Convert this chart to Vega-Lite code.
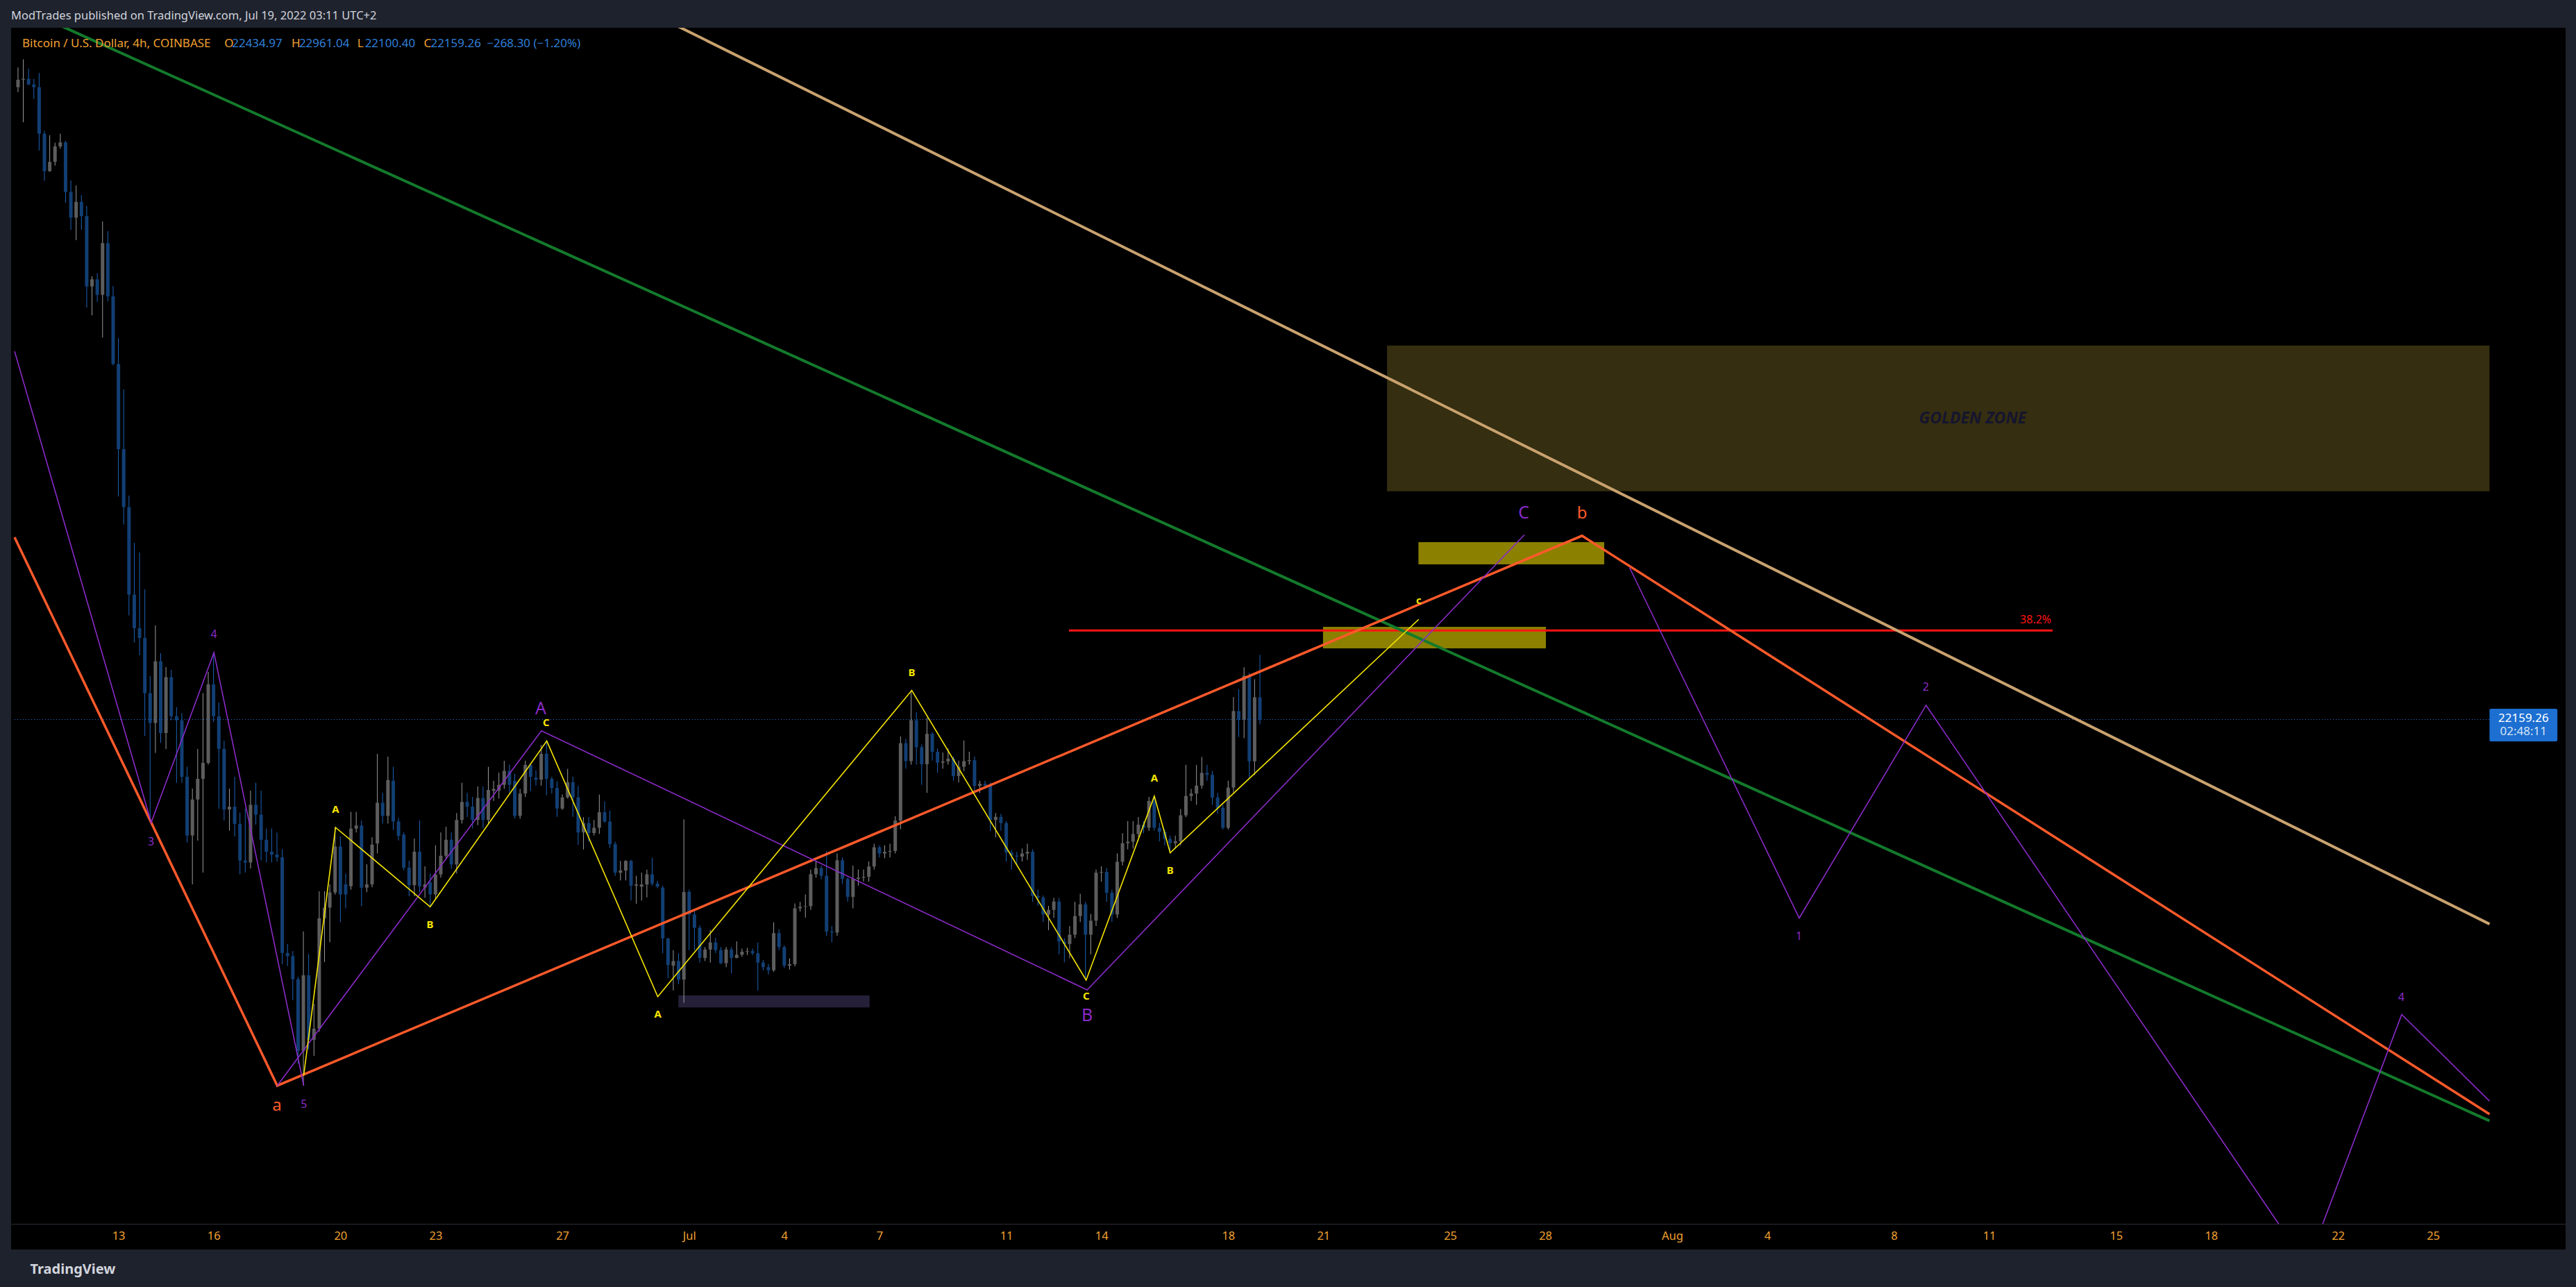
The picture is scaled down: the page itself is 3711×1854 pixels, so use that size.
{
  "$schema": "https://vega.github.io/schema/vega-lite/v6.json",
  "width": 3680,
  "height": 1760,
  "autosize": {"type": "none"},
  "padding": {"left": 16, "top": 40, "right": 15, "bottom": 54},
  "background": "#1e222d",
  "config": {"view": {"fill": "#000000", "stroke": null}, "font": "Noto Sans"},
  "title": {"text": "ModTrades published on TradingView.com, Jul 19, 2022 03:11 UTC+2", "anchor": "start", "frame": "group", "offset": 9, "color": "#d1d4dc", "fontSize": 16.5, "fontWeight": "normal", "font": "Noto Sans"},
  "datasets": {
    "candles": [
      {"t":"2022-06-09T20:00Z","o":29995,"h":30240,"l":29933,"c":30087},
      {"t":"2022-06-10T00:00Z","o":30087,"h":30340,"l":29561,"c":30098},
      {"t":"2022-06-10T04:00Z","o":30098,"h":30225,"l":30020,"c":30029},
      {"t":"2022-06-10T08:00Z","o":30029,"h":30098,"l":29849,"c":29995},
      {"t":"2022-06-10T12:00Z","o":29995,"h":30171,"l":29211,"c":29419},
      {"t":"2022-06-10T16:00Z","o":29419,"h":29453,"l":28835,"c":28954},
      {"t":"2022-06-10T20:00Z","o":28954,"h":29399,"l":28946,"c":29069},
      {"t":"2022-06-11T00:00Z","o":29069,"h":29307,"l":29023,"c":29261},
      {"t":"2022-06-11T04:00Z","o":29261,"h":29418,"l":29234,"c":29311},
      {"t":"2022-06-11T08:00Z","o":29311,"h":29330,"l":28562,"c":28697},
      {"t":"2022-06-11T12:00Z","o":28697,"h":28839,"l":28228,"c":28378},
      {"t":"2022-06-11T16:00Z","o":28378,"h":28777,"l":28101,"c":28574},
      {"t":"2022-06-11T20:00Z","o":28574,"h":28658,"l":28228,"c":28397},
      {"t":"2022-06-12T00:00Z","o":28397,"h":28524,"l":27264,"c":27526},
      {"t":"2022-06-12T04:00Z","o":27526,"h":27652,"l":27168,"c":27614},
      {"t":"2022-06-12T08:00Z","o":27614,"h":27690,"l":27333,"c":27422},
      {"t":"2022-06-12T12:00Z","o":27422,"h":28332,"l":26892,"c":28063},
      {"t":"2022-06-12T16:00Z","o":28063,"h":28209,"l":27341,"c":27403},
      {"t":"2022-06-12T20:00Z","o":27403,"h":27533,"l":26546,"c":26565},
      {"t":"2022-06-13T00:00Z","o":26565,"h":26884,"l":24922,"c":25509},
      {"t":"2022-06-13T04:00Z","o":25509,"h":26251,"l":24576,"c":24791},
      {"t":"2022-06-13T08:00Z","o":24791,"h":24934,"l":23450,"c":23706},
      {"t":"2022-06-13T12:00Z","o":23706,"h":24348,"l":23114,"c":23291},
      {"t":"2022-06-13T16:00Z","o":23291,"h":24228,"l":22955,"c":23170},
      {"t":"2022-06-13T20:00Z","o":23170,"h":23772,"l":21957,"c":22486},
      {"t":"2022-06-14T00:00Z","o":22486,"h":22700,"l":20880,"c":22116},
      {"t":"2022-06-14T04:00Z","o":22116,"h":23325,"l":21746,"c":22881},
      {"t":"2022-06-14T08:00Z","o":22881,"h":22980,"l":21871,"c":21992},
      {"t":"2022-06-14T12:00Z","o":21992,"h":22809,"l":21794,"c":22684},
      {"t":"2022-06-14T16:00Z","o":22684,"h":22775,"l":22150,"c":22200},
      {"t":"2022-06-14T20:00Z","o":22200,"h":22313,"l":21375,"c":22150},
      {"t":"2022-06-15T00:00Z","o":22150,"h":22240,"l":21375,"c":21449},
      {"t":"2022-06-15T04:00Z","o":21449,"h":21573,"l":20635,"c":20723},
      {"t":"2022-06-15T08:00Z","o":20723,"h":21303,"l":20116,"c":21168},
      {"t":"2022-06-15T12:00Z","o":21168,"h":21794,"l":20658,"c":21424},
      {"t":"2022-06-15T16:00Z","o":21424,"h":22486,"l":20262,"c":21622},
      {"t":"2022-06-15T20:00Z","o":21622,"h":22748,"l":21600,"c":22595},
      {"t":"2022-06-16T00:00Z","o":22595,"h":22989,"l":22129,"c":22200},
      {"t":"2022-06-16T04:00Z","o":22200,"h":22370,"l":21054,"c":21795},
      {"t":"2022-06-16T08:00Z","o":21795,"h":21897,"l":20908,"c":21044},
      {"t":"2022-06-16T12:00Z","o":21044,"h":21303,"l":20783,"c":21079},
      {"t":"2022-06-16T16:00Z","o":21079,"h":21450,"l":20710,"c":20866},
      {"t":"2022-06-16T20:00Z","o":20866,"h":21006,"l":20241,"c":20412},
      {"t":"2022-06-17T00:00Z","o":20412,"h":21054,"l":20262,"c":20387},
      {"t":"2022-06-17T04:00Z","o":20387,"h":21278,"l":20314,"c":21103},
      {"t":"2022-06-17T08:00Z","o":21103,"h":21375,"l":20856,"c":20980},
      {"t":"2022-06-17T12:00Z","o":20980,"h":21278,"l":20412,"c":20669},
      {"t":"2022-06-17T16:00Z","o":20669,"h":20808,"l":20390,"c":20521},
      {"t":"2022-06-17T20:00Z","o":20521,"h":20808,"l":20390,"c":20486},
      {"t":"2022-06-18T00:00Z","o":20486,"h":20759,"l":20400,"c":20452},
      {"t":"2022-06-18T04:00Z","o":20452,"h":20551,"l":19127,"c":19266},
      {"t":"2022-06-18T08:00Z","o":19266,"h":19377,"l":19105,"c":19227},
      {"t":"2022-06-18T12:00Z","o":19227,"h":19290,"l":18684,"c":18941},
      {"t":"2022-06-18T16:00Z","o":18941,"h":18970,"l":17897,"c":18052},
      {"t":"2022-06-18T20:00Z","o":18052,"h":19533,"l":17622,"c":18990},
      {"t":"2022-06-19T00:00Z","o":18990,"h":19253,"l":18069,"c":18190},
      {"t":"2022-06-19T04:00Z","o":18190,"h":18636,"l":17991,"c":18328},
      {"t":"2022-06-19T08:00Z","o":18328,"h":20030,"l":18290,"c":19696},
      {"t":"2022-06-19T12:00Z","o":19696,"h":20030,"l":19153,"c":19829},
      {"t":"2022-06-19T16:00Z","o":19829,"h":20116,"l":19400,"c":20017},
      {"t":"2022-06-19T20:00Z","o":20017,"h":20822,"l":19990,"c":20585},
      {"t":"2022-06-20T00:00Z","o":20585,"h":20710,"l":19647,"c":19992},
      {"t":"2022-06-20T04:00Z","o":20116,"h":20250,"l":19820,"c":19992},
      {"t":"2022-06-20T08:00Z","o":20093,"h":21015,"l":20050,"c":20807},
      {"t":"2022-06-20T12:00Z","o":20807,"h":21015,"l":20760,"c":20846},
      {"t":"2022-06-20T16:00Z","o":20846,"h":20908,"l":19845,"c":20076},
      {"t":"2022-06-20T20:00Z","o":20076,"h":20365,"l":20020,"c":20116},
      {"t":"2022-06-21T00:00Z","o":20116,"h":20700,"l":20080,"c":20610},
      {"t":"2022-06-21T04:00Z","o":20624,"h":21734,"l":20500,"c":21128},
      {"t":"2022-06-21T08:00Z","o":21128,"h":21250,"l":20870,"c":20965},
      {"t":"2022-06-21T12:00Z","o":20965,"h":21700,"l":20870,"c":21410},
      {"t":"2022-06-21T16:00Z","o":21400,"h":21573,"l":20790,"c":20896},
      {"t":"2022-06-21T20:00Z","o":20896,"h":20940,"l":20660,"c":20718},
      {"t":"2022-06-22T00:00Z","o":20733,"h":20760,"l":20290,"c":20323},
      {"t":"2022-06-22T04:00Z","o":20323,"h":20410,"l":19970,"c":20106},
      {"t":"2022-06-22T08:00Z","o":20106,"h":20684,"l":19970,"c":20521},
      {"t":"2022-06-22T12:00Z","o":20521,"h":20908,"l":20020,"c":20091},
      {"t":"2022-06-22T16:00Z","o":20077,"h":20340,"l":19950,"c":20116},
      {"t":"2022-06-22T20:00Z","o":20142,"h":20250,"l":19839,"c":19992},
      {"t":"2022-06-23T00:00Z","o":19992,"h":20600,"l":19940,"c":20239},
      {"t":"2022-06-23T04:00Z","o":20239,"h":20760,"l":20200,"c":20471},
      {"t":"2022-06-23T08:00Z","o":20471,"h":20830,"l":20440,"c":20669},
      {"t":"2022-06-23T12:00Z","o":20669,"h":20760,"l":20310,"c":20363},
      {"t":"2022-06-23T16:00Z","o":20363,"h":21000,"l":20250,"c":20915},
      {"t":"2022-06-23T20:00Z","o":20915,"h":21375,"l":20870,"c":21138},
      {"t":"2022-06-24T00:00Z","o":21138,"h":21250,"l":20950,"c":21080},
      {"t":"2022-06-24T04:00Z","o":21080,"h":21200,"l":20810,"c":20915},
      {"t":"2022-06-24T08:00Z","o":20915,"h":21330,"l":20850,"c":21187},
      {"t":"2022-06-24T12:00Z","o":21187,"h":21330,"l":20810,"c":20915},
      {"t":"2022-06-24T16:00Z","o":20915,"h":21573,"l":20860,"c":21286},
      {"t":"2022-06-24T20:00Z","o":21276,"h":21400,"l":21150,"c":21300},
      {"t":"2022-06-25T00:00Z","o":21278,"h":21500,"l":21180,"c":21350},
      {"t":"2022-06-25T04:00Z","o":21350,"h":21647,"l":21300,"c":21523},
      {"t":"2022-06-25T08:00Z","o":21523,"h":21600,"l":21250,"c":21350},
      {"t":"2022-06-25T12:00Z","o":21400,"h":21490,"l":20933,"c":20966},
      {"t":"2022-06-25T16:00Z","o":20966,"h":21300,"l":20930,"c":21242},
      {"t":"2022-06-25T20:00Z","o":21242,"h":21650,"l":21200,"c":21597},
      {"t":"2022-06-26T00:00Z","o":21597,"h":21620,"l":21270,"c":21449},
      {"t":"2022-06-26T04:00Z","o":21439,"h":21530,"l":21340,"c":21414},
      {"t":"2022-06-26T08:00Z","o":21414,"h":21845,"l":21340,"c":21735},
      {"t":"2022-06-26T12:00Z","o":21735,"h":21897,"l":21221,"c":21424},
      {"t":"2022-06-26T16:00Z","o":21424,"h":21450,"l":21241,"c":21311},
      {"t":"2022-06-26T20:00Z","o":21311,"h":21394,"l":20953,"c":21056},
      {"t":"2022-06-27T00:00Z","o":21056,"h":21230,"l":21040,"c":21194},
      {"t":"2022-06-27T04:00Z","o":21194,"h":21548,"l":21180,"c":21383},
      {"t":"2022-06-27T08:00Z","o":21383,"h":21452,"l":20953,"c":21194},
      {"t":"2022-06-27T12:00Z","o":21194,"h":21337,"l":20607,"c":20760},
      {"t":"2022-06-27T16:00Z","o":20760,"h":20950,"l":20549,"c":20876},
      {"t":"2022-06-27T20:00Z","o":20876,"h":20950,"l":20645,"c":20753},
      {"t":"2022-06-28T00:00Z","o":20753,"h":20914,"l":20722,"c":20818},
      {"t":"2022-06-28T04:00Z","o":20818,"h":21229,"l":20741,"c":21010},
      {"t":"2022-06-28T08:00Z","o":21010,"h":21144,"l":20880,"c":20895},
      {"t":"2022-06-28T12:00Z","o":20895,"h":21029,"l":20568,"c":20615},
      {"t":"2022-06-28T16:00Z","o":20615,"h":20645,"l":20223,"c":20261},
      {"t":"2022-06-28T20:00Z","o":20261,"h":20407,"l":20165,"c":20288},
      {"t":"2022-06-29T00:00Z","o":20288,"h":20415,"l":20165,"c":20407},
      {"t":"2022-06-29T04:00Z","o":20407,"h":20420,"l":19916,"c":20100},
      {"t":"2022-06-29T08:00Z","o":20100,"h":20223,"l":19877,"c":20115},
      {"t":"2022-06-29T12:00Z","o":20088,"h":20261,"l":19916,"c":20115},
      {"t":"2022-06-29T16:00Z","o":20115,"h":20300,"l":19954,"c":20242},
      {"t":"2022-06-29T20:00Z","o":20242,"h":20445,"l":20100,"c":20127},
      {"t":"2022-06-30T00:00Z","o":20127,"h":20160,"l":20069,"c":20088},
      {"t":"2022-06-30T04:00Z","o":20077,"h":20100,"l":19263,"c":19447},
      {"t":"2022-06-30T08:00Z","o":19447,"h":19455,"l":18956,"c":19117},
      {"t":"2022-06-30T12:00Z","o":19109,"h":19301,"l":18802,"c":19167},
      {"t":"2022-06-30T16:00Z","o":19167,"h":19263,"l":18880,"c":18936},
      {"t":"2022-06-30T20:00Z","o":18936,"h":20922,"l":18649,"c":20023},
      {"t":"2022-07-01T00:00Z","o":20023,"h":20050,"l":19301,"c":19743},
      {"t":"2022-07-01T04:00Z","o":19743,"h":19800,"l":19301,"c":19578},
      {"t":"2022-07-01T08:00Z","o":19578,"h":19610,"l":19147,"c":19205},
      {"t":"2022-07-01T12:00Z","o":19205,"h":19340,"l":19167,"c":19309},
      {"t":"2022-07-01T16:00Z","o":19309,"h":19551,"l":19147,"c":19397},
      {"t":"2022-07-01T20:00Z","o":19397,"h":19455,"l":19263,"c":19301},
      {"t":"2022-07-02T00:00Z","o":19301,"h":19340,"l":19128,"c":19140},
      {"t":"2022-07-02T04:00Z","o":19140,"h":19340,"l":19090,"c":19309},
      {"t":"2022-07-02T08:00Z","o":19309,"h":19340,"l":19013,"c":19205},
      {"t":"2022-07-02T12:00Z","o":19205,"h":19410,"l":19200,"c":19244},
      {"t":"2022-07-02T16:00Z","o":19244,"h":19320,"l":19220,"c":19282},
      {"t":"2022-07-02T20:00Z","o":19282,"h":19330,"l":19240,"c":19290},
      {"t":"2022-07-03T00:00Z","o":19290,"h":19320,"l":19240,"c":19263},
      {"t":"2022-07-03T04:00Z","o":19263,"h":19397,"l":18802,"c":19147},
      {"t":"2022-07-03T08:00Z","o":19147,"h":19180,"l":19050,"c":19090},
      {"t":"2022-07-03T12:00Z","o":19090,"h":19130,"l":19000,"c":19052},
      {"t":"2022-07-03T16:00Z","o":19052,"h":19647,"l":19032,"c":19513},
      {"t":"2022-07-03T20:00Z","o":19513,"h":19560,"l":19300,"c":19340},
      {"t":"2022-07-04T00:00Z","o":19340,"h":19360,"l":19080,"c":19109},
      {"t":"2022-07-04T04:00Z","o":19109,"h":19200,"l":19060,"c":19128},
      {"t":"2022-07-04T08:00Z","o":19128,"h":19880,"l":19100,"c":19820},
      {"t":"2022-07-04T12:00Z","o":19820,"h":19900,"l":19780,"c":19839},
      {"t":"2022-07-04T16:00Z","o":19839,"h":19992,"l":19704,"c":19846},
      {"t":"2022-07-04T20:00Z","o":19846,"h":20300,"l":19800,"c":20242},
      {"t":"2022-07-05T00:00Z","o":20242,"h":20400,"l":20200,"c":20319},
      {"t":"2022-07-05T04:00Z","o":20319,"h":20350,"l":20180,"c":20223},
      {"t":"2022-07-05T08:00Z","o":20223,"h":20530,"l":19480,"c":19532},
      {"t":"2022-07-05T12:00Z","o":19532,"h":19600,"l":19400,"c":19520},
      {"t":"2022-07-05T16:00Z","o":19520,"h":20500,"l":19480,"c":20415},
      {"t":"2022-07-05T20:00Z","o":20415,"h":20450,"l":20120,"c":20184},
      {"t":"2022-07-06T00:00Z","o":20184,"h":20200,"l":19900,"c":19962},
      {"t":"2022-07-06T04:00Z","o":19962,"h":20350,"l":19820,"c":20184},
      {"t":"2022-07-06T08:00Z","o":20184,"h":20300,"l":20100,"c":20200},
      {"t":"2022-07-06T12:00Z","o":20200,"h":20300,"l":20150,"c":20210},
      {"t":"2022-07-06T16:00Z","o":20210,"h":20400,"l":20150,"c":20338},
      {"t":"2022-07-06T20:00Z","o":20338,"h":20620,"l":20300,"c":20576},
      {"t":"2022-07-07T00:00Z","o":20576,"h":20600,"l":20450,"c":20499},
      {"t":"2022-07-07T04:00Z","o":20499,"h":20600,"l":20440,"c":20520},
      {"t":"2022-07-07T08:00Z","o":20520,"h":20620,"l":20450,"c":20530},
      {"t":"2022-07-07T12:00Z","o":20530,"h":20960,"l":20500,"c":20906},
      {"t":"2022-07-07T16:00Z","o":20906,"h":21950,"l":20800,"c":21866},
      {"t":"2022-07-07T20:00Z","o":21866,"h":21920,"l":21550,"c":21644},
      {"t":"2022-07-08T00:00Z","o":21644,"h":22520,"l":21600,"c":22151},
      {"t":"2022-07-08T04:00Z","o":22151,"h":22250,"l":21600,"c":21816},
      {"t":"2022-07-08T08:00Z","o":21816,"h":21850,"l":21350,"c":21605},
      {"t":"2022-07-08T12:00Z","o":21605,"h":22180,"l":21250,"c":21982},
      {"t":"2022-07-08T16:00Z","o":21982,"h":22000,"l":21650,"c":21759},
      {"t":"2022-07-08T20:00Z","o":21759,"h":21800,"l":21500,"c":21624},
      {"t":"2022-07-09T00:00Z","o":21624,"h":21750,"l":21550,"c":21640},
      {"t":"2022-07-09T04:00Z","o":21640,"h":21800,"l":21600,"c":21674},
      {"t":"2022-07-09T08:00Z","o":21674,"h":21700,"l":21400,"c":21459},
      {"t":"2022-07-09T12:00Z","o":21459,"h":21650,"l":21380,"c":21574},
      {"t":"2022-07-09T16:00Z","o":21574,"h":21900,"l":21520,"c":21644},
      {"t":"2022-07-09T20:00Z","o":21644,"h":21760,"l":21600,"c":21655},
      {"t":"2022-07-10T00:00Z","o":21655,"h":21700,"l":21250,"c":21336},
      {"t":"2022-07-10T04:00Z","o":21336,"h":21400,"l":21250,"c":21363},
      {"t":"2022-07-10T08:00Z","o":21363,"h":21400,"l":21300,"c":21340},
      {"t":"2022-07-10T12:00Z","o":21340,"h":21380,"l":20780,"c":20914},
      {"t":"2022-07-10T16:00Z","o":20914,"h":21000,"l":20700,"c":20953},
      {"t":"2022-07-10T20:00Z","o":20953,"h":20990,"l":20780,"c":20876},
      {"t":"2022-07-11T00:00Z","o":20876,"h":20900,"l":20400,"c":20511},
      {"t":"2022-07-11T04:00Z","o":20511,"h":20540,"l":20300,"c":20472},
      {"t":"2022-07-11T08:00Z","o":20472,"h":20520,"l":20350,"c":20461},
      {"t":"2022-07-11T12:00Z","o":20461,"h":20560,"l":20400,"c":20499},
      {"t":"2022-07-11T16:00Z","o":20499,"h":20620,"l":20420,"c":20520},
      {"t":"2022-07-11T20:00Z","o":20520,"h":20550,"l":19900,"c":19973},
      {"t":"2022-07-12T00:00Z","o":19973,"h":20050,"l":19850,"c":19954},
      {"t":"2022-07-12T04:00Z","o":19954,"h":19980,"l":19650,"c":19743},
      {"t":"2022-07-12T08:00Z","o":19743,"h":19850,"l":19550,"c":19800},
      {"t":"2022-07-12T12:00Z","o":19800,"h":19950,"l":19700,"c":19904},
      {"t":"2022-07-12T16:00Z","o":19904,"h":19950,"l":19250,"c":19409},
      {"t":"2022-07-12T20:00Z","o":19409,"h":19450,"l":19150,"c":19378},
      {"t":"2022-07-13T00:00Z","o":19378,"h":19600,"l":19200,"c":19493},
      {"t":"2022-07-13T04:00Z","o":19493,"h":19900,"l":19450,"c":19724},
      {"t":"2022-07-13T08:00Z","o":19724,"h":20000,"l":19650,"c":19869},
      {"t":"2022-07-13T12:00Z","o":19869,"h":19900,"l":18929,"c":19493},
      {"t":"2022-07-13T16:00Z","o":19493,"h":19750,"l":19250,"c":19666},
      {"t":"2022-07-13T20:00Z","o":19666,"h":20300,"l":19600,"c":20261},
      {"t":"2022-07-14T00:00Z","o":20261,"h":20340,"l":20150,"c":20270},
      {"t":"2022-07-14T04:00Z","o":20270,"h":20320,"l":19900,"c":20012},
      {"t":"2022-07-14T08:00Z","o":20012,"h":20050,"l":19650,"c":19743},
      {"t":"2022-07-14T12:00Z","o":19743,"h":20500,"l":19700,"c":20396},
      {"t":"2022-07-14T16:00Z","o":20396,"h":20750,"l":20350,"c":20626},
      {"t":"2022-07-14T20:00Z","o":20626,"h":20900,"l":20550,"c":20645},
      {"t":"2022-07-15T00:00Z","o":20645,"h":20900,"l":20560,"c":20741},
      {"t":"2022-07-15T04:00Z","o":20741,"h":20950,"l":20700,"c":20856},
      {"t":"2022-07-15T08:00Z","o":20856,"h":20900,"l":20750,"c":20818},
      {"t":"2022-07-15T12:00Z","o":20818,"h":21200,"l":20780,"c":21150},
      {"t":"2022-07-15T16:00Z","o":21150,"h":21210,"l":20780,"c":20818},
      {"t":"2022-07-15T20:00Z","o":20818,"h":20880,"l":20650,"c":20768},
      {"t":"2022-07-16T00:00Z","o":20768,"h":20800,"l":20600,"c":20680},
      {"t":"2022-07-16T04:00Z","o":20680,"h":20720,"l":20507,"c":20626},
      {"t":"2022-07-16T08:00Z","o":20626,"h":20720,"l":20560,"c":20650},
      {"t":"2022-07-16T12:00Z","o":20650,"h":21050,"l":20600,"c":20972},
      {"t":"2022-07-16T16:00Z","o":20972,"h":21597,"l":20950,"c":21212},
      {"t":"2022-07-16T20:00Z","o":21212,"h":21300,"l":21150,"c":21242},
      {"t":"2022-07-17T00:00Z","o":21242,"h":21597,"l":21103,"c":21340},
      {"t":"2022-07-17T04:00Z","o":21340,"h":21696,"l":21301,"c":21498},
      {"t":"2022-07-17T08:00Z","o":21498,"h":21597,"l":21400,"c":21474},
      {"t":"2022-07-17T12:00Z","o":21474,"h":21523,"l":21103,"c":21192},
      {"t":"2022-07-17T16:00Z","o":21192,"h":21250,"l":20990,"c":21064},
      {"t":"2022-07-17T20:00Z","o":21064,"h":21103,"l":20797,"c":20817},
      {"t":"2022-07-18T00:00Z","o":20817,"h":21400,"l":20797,"c":21316},
      {"t":"2022-07-18T04:00Z","o":21316,"h":22437,"l":21250,"c":22264},
      {"t":"2022-07-18T08:00Z","o":22264,"h":22536,"l":21943,"c":22158},
      {"t":"2022-07-18T12:00Z","o":22158,"h":22807,"l":21928,"c":22702},
      {"t":"2022-07-18T16:00Z","o":22702,"h":22737,"l":21425,"c":21641},
      {"t":"2022-07-18T20:00Z","o":21641,"h":22659,"l":21470,"c":22435},
      {"t":"2022-07-19T00:00Z","o":22434.97,"h":22961.04,"l":22100.4,"c":22159.26}
    ],
    "lines": [
      {"s":"green","k":1,"t":"2022-06-09T17:24Z","p":31014},
      {"s":"green","k":2,"t":"2022-08-26T18:43Z","p":17186},
      {"s":"tan","k":1,"t":"2022-06-29T00:43Z","p":31064},
      {"s":"tan","k":2,"t":"2022-08-26T18:43Z","p":19625},
      {"s":"orange","k":1,"t":"2022-06-09T17:24Z","p":24417},
      {"s":"orange","k":2,"t":"2022-06-18T00:13Z","p":17622},
      {"s":"orange","k":3,"t":"2022-07-29T03:50Z","p":24436},
      {"s":"orange","k":4,"t":"2022-08-26T18:43Z","p":17269},
      {"s":"purple1","k":1,"t":"2022-06-09T17:24Z","p":26723},
      {"s":"purple1","k":2,"t":"2022-06-14T00:48Z","p":20882},
      {"s":"purple1","k":3,"t":"2022-06-16T00:19Z","p":22989},
      {"s":"purple1","k":4,"t":"2022-06-18T20:17Z","p":17622},
      {"s":"purple2","k":1,"t":"2022-06-18T00:13Z","p":17622},
      {"s":"purple2","k":2,"t":"2022-06-26T08:10Z","p":22020},
      {"s":"purple2","k":3,"t":"2022-07-13T13:12Z","p":18809},
      {"s":"purple2","k":4,"t":"2022-07-27T08:10Z","p":24447},
      {"s":"purple3","k":1,"t":"2022-07-30T15:50Z","p":24041},
      {"s":"purple3","k":2,"t":"2022-08-05T00:14Z","p":19699},
      {"s":"purple3","k":3,"t":"2022-08-09T00:14Z","p":22336},
      {"s":"purple3","k":4,"t":"2022-08-20T03:07Z","p":15910},
      {"s":"purple4","k":1,"t":"2022-08-21T12:29Z","p":15910},
      {"s":"purple4","k":2,"t":"2022-08-24T00:14Z","p":18504},
      {"s":"purple4","k":3,"t":"2022-08-26T18:43Z","p":17432},
      {"s":"yellow","k":1,"t":"2022-06-18T20:17Z","p":17751},
      {"s":"yellow","k":2,"t":"2022-06-19T20:20Z","p":20822},
      {"s":"yellow","k":3,"t":"2022-06-22T19:58Z","p":19839},
      {"s":"yellow","k":4,"t":"2022-06-26T12:14Z","p":21894},
      {"s":"yellow","k":5,"t":"2022-06-30T00:14Z","p":18725},
      {"s":"yellow","k":6,"t":"2022-07-08T00:29Z","p":22520},
      {"s":"yellow","k":7,"t":"2022-07-13T12:29Z","p":18929},
      {"s":"yellow","k":8,"t":"2022-07-15T16:05Z","p":21210},
      {"s":"yellow","k":9,"t":"2022-07-16T04:05Z","p":20507},
      {"s":"yellow","k":10,"t":"2022-07-24T00:14Z","p":23400}
    ],
    "rects": [
      {"k":"gz","t":"2022-07-23T00:14Z","t2":"2022-08-26T18:43Z","p":24988,"p2":26793},
      {"k":"box","t":"2022-07-24T00:00Z","t2":"2022-07-29T20:38Z","p":24082,"p2":24357},
      {"k":"box","t":"2022-07-20T23:46Z","t2":"2022-07-28T00:29Z","p":23041,"p2":23307},
      {"k":"dark","t":"2022-06-30T15:50Z","t2":"2022-07-06T16:34Z","p":18591,"p2":18740}
    ],
    "labels": [
      {"k":"pn","s":"3","t":"2022-06-14T00:43Z","p":20645},
      {"k":"pn","s":"4","t":"2022-06-16T00:14Z","p":23217},
      {"k":"pn","s":"5","t":"2022-06-18T20:24Z","p":17389},
      {"k":"pn","s":"1","t":"2022-08-05T00:00Z","p":19473},
      {"k":"pn","s":"2","t":"2022-08-09T00:00Z","p":22560},
      {"k":"pn","s":"4","t":"2022-08-24T00:00Z","p":18718},
      {"k":"pb","s":"A","t":"2022-06-26T07:41Z","p":22293},
      {"k":"pb","s":"B","t":"2022-07-13T13:12Z","p":18490},
      {"k":"pb","s":"C","t":"2022-07-27T07:41Z","p":24718},
      {"k":"r","s":"a","t":"2022-06-18T00:00Z","p":17376},
      {"k":"r","s":"b","t":"2022-07-29T03:50Z","p":24710},
      {"k":"y","s":"A","t":"2022-06-19T20:24Z","p":21045},
      {"k":"y","s":"B","t":"2022-06-22T19:55Z","p":19617},
      {"k":"y","s":"C","t":"2022-06-26T11:46Z","p":22120},
      {"k":"y","s":"A","t":"2022-06-30T00:14Z","p":18508},
      {"k":"y","s":"B","t":"2022-07-08T00:29Z","p":22740},
      {"k":"y","s":"C","t":"2022-07-13T12:29Z","p":18730},
      {"k":"y","s":"A","t":"2022-07-15T16:05Z","p":21432},
      {"k":"y","s":"B","t":"2022-07-16T04:05Z","p":20288},
      {"k":"y","s":"c","t":"2022-07-24T00:14Z","p":23634}
    ],
    "legendtext": [
      {"k":"o","s":"Bitcoin / U.S. Dollar, 4h, COINBASE","t":"2022-06-09T23:10Z","p":30533},
      {"k":"o","s":"O","t":"2022-06-16T08:11Z","p":30533},
      {"k":"b","s":"22434.97","t":"2022-06-16T13:57Z","p":30533},
      {"k":"o","s":"H","t":"2022-06-18T11:01Z","p":30533},
      {"k":"b","s":"22961.04","t":"2022-06-18T16:46Z","p":30533},
      {"k":"o","s":"L","t":"2022-06-20T12:47Z","p":30533},
      {"k":"b","s":"22100.40","t":"2022-06-20T18:33Z","p":30533},
      {"k":"o","s":"C","t":"2022-06-22T15:06Z","p":30533},
      {"k":"b","s":"22159.26","t":"2022-06-22T20:20Z","p":30533},
      {"k":"b","s":"\u2212268.30 (\u22121.20%)","t":"2022-06-24T14:47Z","p":30533}
    ]
  },
  "encoding": {
    "x": {
      "field": "t", "type": "temporal",
      "scale": {"type": "utc", "domain": [{"year":2022,"month":6,"date":9,"hours":17,"minutes":24,"utc":true},{"year":2022,"month":8,"date":29,"hours":1,"minutes":40,"utc":true}]},
      "axis": {
        "orient": "bottom", "offset": -37, "grid": false, "ticks": false,
        "domainColor": "#2a2e39", "domainWidth": 1,
        "labelColor": "#f0a030", "labelFontSize": 16.5, "labelPadding": 9, "labelOverlap": false, "labelFlush": false, "labelFont": "Noto Sans",
        "values": [
          {"year":2022,"month":6,"date":13,"utc":true},{"year":2022,"month":6,"date":16,"utc":true},{"year":2022,"month":6,"date":20,"utc":true},{"year":2022,"month":6,"date":23,"utc":true},{"year":2022,"month":6,"date":27,"utc":true},
          {"year":2022,"month":7,"date":1,"utc":true},{"year":2022,"month":7,"date":4,"utc":true},{"year":2022,"month":7,"date":7,"utc":true},{"year":2022,"month":7,"date":11,"utc":true},{"year":2022,"month":7,"date":14,"utc":true},{"year":2022,"month":7,"date":18,"utc":true},{"year":2022,"month":7,"date":21,"utc":true},{"year":2022,"month":7,"date":25,"utc":true},{"year":2022,"month":7,"date":28,"utc":true},
          {"year":2022,"month":8,"date":1,"utc":true},{"year":2022,"month":8,"date":4,"utc":true},{"year":2022,"month":8,"date":8,"utc":true},{"year":2022,"month":8,"date":11,"utc":true},{"year":2022,"month":8,"date":15,"utc":true},{"year":2022,"month":8,"date":18,"utc":true},{"year":2022,"month":8,"date":22,"utc":true},{"year":2022,"month":8,"date":25,"utc":true}
        ],
        "labelExpr": "utcdate(datum.value) == 1 ? utcFormat(datum.value, '%b') : utcFormat(datum.value, '%-d')",
        "title": "TradingView", "titleX": 27, "titleY": 65, "titleAlign": "left", "titleBaseline": "middle", "titleAngle": 0,
        "titleColor": "#d1d4dc", "titleFontSize": 20, "titleFontWeight": "bold", "titleFont": "Noto Sans"
      }
    },
    "y": {
      "field": "p", "type": "quantitative",
      "scale": {"domain": [15591.7, 30731.2], "nice": false, "zero": false},
      "axis": {
        "orient": "right", "offset": -105, "grid": false, "ticks": false,
        "domainColor": "#2a2e39", "domainWidth": 1,
        "labelColor": "#f0a030", "labelFontSize": 17, "labelPadding": 16, "labelFont": "Noto Sans", "labelBaseline": "middle", "labelAlign": "left",
        "format": ".2f",
        "values": [16000,16400,16800,17200,17600,18000,18400,18800,19200,19600,20000,20400,20800,21200,21600,22000,22400,22800,23200,23600,24000,24400,24800,25200,25600,26000,26400,26800,27200,27600,28000,28400,28800,29200,29600,30000,30400],
        "labelOpacity": {"condition": {"test": "datum.value > 30200", "value": 0.3}, "value": 1},
        "title": "USD", "titleAngle": 0, "titleX": 16, "titleY": 20, "titleAlign": "left", "titleBaseline": "middle",
        "titleColor": "#f0a030", "titleFontSize": 17, "titleFontWeight": "normal", "titleFont": "Noto Sans"
      }
    }
  },
  "layer": [
    {
      "data": {"name": "rects"},
      "mark": {"type": "rect", "clip": true},
      "encoding": {
        "x2": {"field": "t2"},
        "y2": {"field": "p2"},
        "color": {"condition": [{"test": "datum.k == 'gz'", "value": "#352e10"}, {"test": "datum.k == 'box'", "value": "#8b8000"}], "value": "#252038"}
      }
    },
    {
      "data": {"values": [{"s": "GOLDEN ZONE", "t": "2022-08-10T11:31Z", "p": 25888}]},
      "mark": {"type": "text", "fontSize": 23, "fontStyle": "italic", "fontWeight": "bold", "color": "#15152e", "align": "center", "baseline": "middle"},
      "encoding": {"text": {"field": "s"}}
    },
    {
      "data": {"name": "candles"},
      "mark": {"type": "rule", "strokeWidth": 1},
      "encoding": {
        "y": {"field": "l", "type": "quantitative", "scale": {"domain": [15591.7, 30731.2], "nice": false, "zero": false}, "axis": null},
        "y2": {"field": "h"},
        "color": {"condition": {"test": "datum.c < datum.o", "value": "#1d63b8"}, "value": "#9a9a9a"}
      }
    },
    {
      "data": {"name": "candles"},
      "mark": {"type": "bar", "width": 5},
      "encoding": {
        "y": {"field": "o", "type": "quantitative", "scale": {"domain": [15591.7, 30731.2], "nice": false, "zero": false}, "axis": null},
        "y2": {"field": "c"},
        "color": {"condition": {"test": "datum.c < datum.o", "value": "#123f74"}, "value": "#5d5d5d"}
      }
    },
    {
      "data": {"values": [{"t": "2022-06-09T17:24Z", "t2": "2022-08-26T18:43Z", "p": 22159.26}]},
      "mark": {"type": "rule", "strokeWidth": 1, "strokeDash": [1, 3], "color": "#2a6fd6"},
      "encoding": {"x2": {"field": "t2"}}
    },
    {
      "data": {"values": [{"t": "2022-07-12T23:31Z", "t2": "2022-08-13T00:00Z", "p": 23262}]},
      "mark": {"type": "rule", "strokeWidth": 3, "color": "#ff1414"},
      "encoding": {"x2": {"field": "t2"}}
    },
    {
      "data": {"values": [{"s": "38.2%", "t": "2022-08-12T23:02Z", "p": 23395}]},
      "mark": {"type": "text", "fontSize": 16, "color": "#ff1414", "align": "right", "baseline": "middle"},
      "encoding": {"text": {"field": "s"}}
    },
    {
      "data": {"name": "lines"},
      "transform": [{"filter": "datum.s == 'green' || datum.s == 'tan'"}],
      "mark": {"type": "line", "clip": true, "strokeWidth": 4},
      "encoding": {
        "order": {"field": "k", "type": "quantitative"},
        "detail": {"field": "s"},
        "color": {"condition": {"test": "datum.s == 'green'", "value": "#137a2c"}, "value": "#c9a26f"}
      }
    },
    {
      "data": {"name": "lines"},
      "transform": [{"filter": "datum.s == 'orange'"}],
      "mark": {"type": "line", "clip": true, "strokeWidth": 3.5, "color": "#ff5a2a"},
      "encoding": {
        "order": {"field": "k", "type": "quantitative"}
      }
    },
    {
      "data": {"name": "lines"},
      "transform": [{"filter": "datum.s != 'green' && datum.s != 'tan' && datum.s != 'orange'"}],
      "mark": {"type": "line", "clip": true, "strokeWidth": 1.6},
      "encoding": {
        "order": {"field": "k", "type": "quantitative"},
        "detail": {"field": "s"},
        "color": {"condition": {"test": "datum.s == 'yellow'", "value": "#f7e600"}, "value": "#8a2bc8"}
      }
    },
    {
      "data": {"name": "labels"},
      "transform": [{"filter": "datum.k == 'pn'"}],
      "mark": {"type": "text", "fontSize": 16, "color": "#8a2bc8", "align": "center", "baseline": "middle"},
      "encoding": {"text": {"field": "s"}}
    },
    {
      "data": {"name": "labels"},
      "transform": [{"filter": "datum.k == 'pb'"}],
      "mark": {"type": "text", "fontSize": 25, "color": "#8a2bc8", "align": "center", "baseline": "middle"},
      "encoding": {"text": {"field": "s"}}
    },
    {
      "data": {"name": "labels"},
      "transform": [{"filter": "datum.k == 'r'"}],
      "mark": {"type": "text", "fontSize": 24, "color": "#ff5a2a", "align": "center", "baseline": "middle"},
      "encoding": {"text": {"field": "s"}}
    },
    {
      "data": {"name": "labels"},
      "transform": [{"filter": "datum.k == 'y'"}],
      "mark": {"type": "text", "fontSize": 15, "fontWeight": "bold", "color": "#f7e600", "align": "center", "baseline": "middle"},
      "encoding": {"text": {"field": "s"}}
    },
    {
      "data": {"name": "legendtext"},
      "mark": {"type": "text", "fontSize": 17, "align": "left", "baseline": "middle"},
      "encoding": {
        "text": {"field": "s"},
        "color": {"condition": {"test": "datum.k == 'o'", "value": "#f0a030"}, "value": "#2f7fd8"}
      }
    },
    {
      "data": {"values": [{"t": "2022-08-26T18:43Z", "t2": "2022-08-28T22:05Z", "p": 21888, "p2": 22293}]},
      "mark": {"type": "rect", "color": "#1d6fd1", "cornerRadius": 2},
      "encoding": {"x2": {"field": "t2"}, "y2": {"field": "p2"}}
    },
    {
      "data": {"values": [{"s": "22159.26", "t": "2022-08-27T20:24Z", "p": 22172}]},
      "mark": {"type": "text", "fontSize": 17, "color": "#ffffff", "align": "center", "baseline": "middle"},
      "encoding": {"text": {"field": "s"}}
    },
    {
      "data": {"values": [{"s": "02:48:11", "t": "2022-08-27T20:24Z", "p": 22009}]},
      "mark": {"type": "text", "fontSize": 17, "color": "#d6e4f5", "align": "center", "baseline": "middle"},
      "encoding": {"text": {"field": "s"}}
    }
  ]
}
